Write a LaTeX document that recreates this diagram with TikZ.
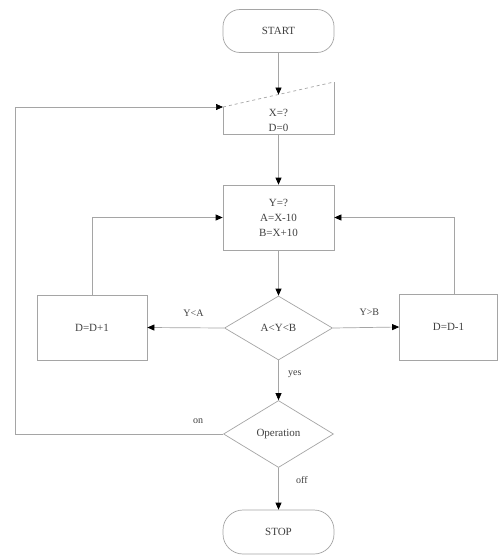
\documentclass[tikz,border=0pt]{standalone}
\usepackage{fontspec}
\setmainfont{Liberation Serif}
\usetikzlibrary{arrows.meta,shapes.geometric}
\definecolor{ln}{HTML}{A5A5A5}
\definecolor{tx}{HTML}{404040}
\begin{document}
\begin{tikzpicture}[x=1pt,y=-1pt,
  every node/.style={font=\fontsize{11}{15}\selectfont, text=tx},
  box/.style={draw=ln, line width=0.7pt, rectangle, align=center, inner sep=0pt},
  term/.style={box, rounded corners=17pt},
  dec/.style={draw=ln, line width=0.7pt, diamond, inner sep=0pt, aspect=1.7},
  arr/.style={draw=ln, line width=0.7pt, -{Triangle[length=7pt,width=6pt,color=black]}},
  lnk/.style={draw=ln, line width=0.7pt},
  lbl/.style={font=\fontsize{10}{12}\selectfont}]
\useasboundingbox (0,0) rectangle (499,560);
\fill[white] (0,0) rectangle (499,560);

\node[term, minimum width=111pt, minimum height=43pt] (start) at (278.5,31) {START};

% manual input
\node[align=center] (input) at (278.5,120) {X=?\\D=0};
\coordinate (intl) at (223,107);
\coordinate (intr) at (334,82);
\coordinate (inbl) at (223,134);
\coordinate (inbr) at (334,134);
\coordinate (intop) at (278.5,94.6);
\coordinate (inbot) at (278.5,134);
\draw[lnk, dashed] (intl) -- (intr);
\draw[lnk] (intr) -- (inbr) -- (inbl) -- (intl);

\node[box, minimum width=111pt, minimum height=65pt] (calc) at (278.5,217.5) {Y=?\\A=X-10\\B=X+10};
\node[dec, minimum width=108pt, minimum height=64pt] (cmp) at (278.5,328) {A<Y<B};
\node[box, minimum width=110pt, minimum height=65pt] (inc) at (92,327.5) {D=D+1};
\node[box, minimum width=98pt, minimum height=66pt] (decr) at (448.5,327) {D=D-1};
\node[dec, minimum width=110pt, minimum height=67pt] (op) at (278.5,434) {Operation};
\node[term, minimum width=111pt, minimum height=44pt, rounded corners=20pt] (stop) at (278.5,532) {STOP};

\coordinate (loopx) at (15,434);

\draw[arr] (start.south) -- (intop);
\draw[arr] (inbot) -- (calc.north);
\draw[arr] (calc.south) -- (cmp.north);
\draw[arr] (cmp.west) -- node[lbl, above=8pt, pos=0.4] {Y<A} (inc.east);
\draw[arr] (cmp.east) -- node[lbl, above=8pt, pos=0.55] {Y>B} (decr.west);
\draw[arr] (inc.north) |- (calc.west);
\draw[arr] ([xshift=6pt]decr.north) |- (calc.east);
\draw[arr] (cmp.south) -- node[lbl, right=6pt, pos=0.35] {yes} (op.north);
\draw[arr] (op.south) -- node[lbl, right=14pt, pos=0.3] {off} (stop.north);
\draw[arr] (op.west) -- node[lbl, above=7pt, pos=0.12] {on} (loopx) |- (intl);
\end{tikzpicture}
\end{document}
